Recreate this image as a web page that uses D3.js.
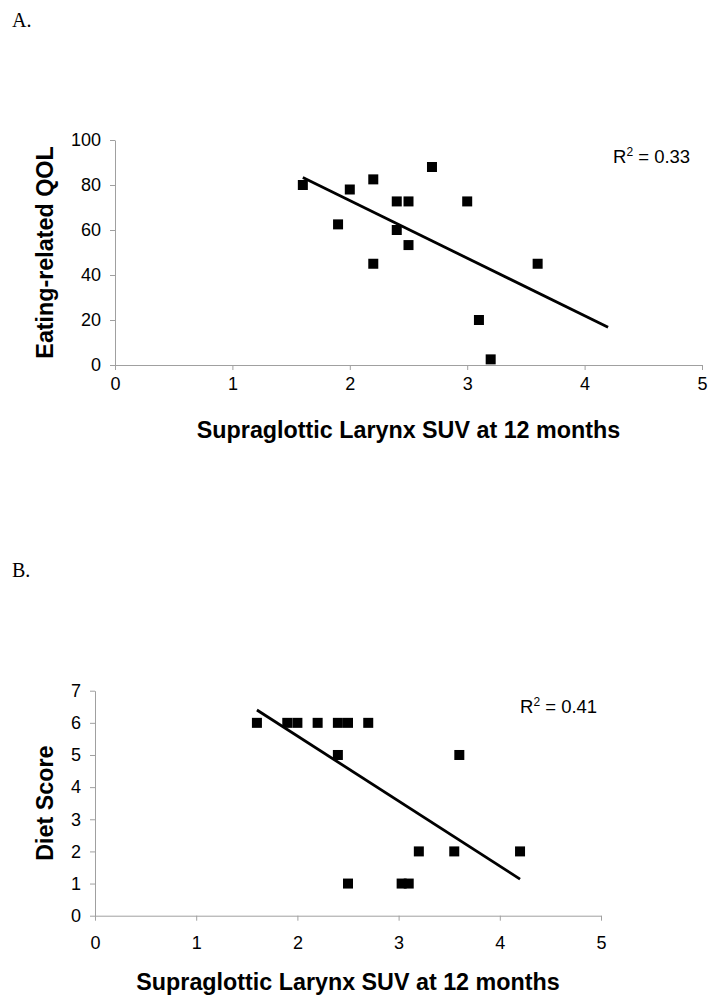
<!DOCTYPE html>
<html>
<head>
<meta charset="utf-8">
<script src="https://cdn.jsdelivr.net/npm/d3@7"></script>
<style>
  html, body { margin: 0; padding: 0; background: #fff; }
  svg { display: block; }
  text { font-family: "Liberation Sans", Arial, sans-serif; fill: #000; }
</style>
</head>
<body>
<svg id="chart" width="720" height="1008"></svg>
<script>
// ---- data ----
const xTickValues = [0, 1, 2, 3, 4, 5];
const yTickValuesA = [0, 20, 40, 60, 80, 100];
const yTickValuesB = [0, 1, 2, 3, 4, 5, 6, 7];

const suvA = [1.6, 2.0, 2.2, 1.9, 2.4, 2.5, 2.7, 3.0, 2.4, 2.5, 2.2, 3.6, 3.1, 3.2];
const qolA = [80, 78, 82.5, 62.5, 72.7, 72.7, 88, 72.7, 60, 53.3, 45, 45, 20, 2.5];

const suvB = [1.6, 1.9, 2.0, 2.2, 2.4, 2.5, 2.7, 2.4, 3.6, 3.2, 3.55, 4.2, 2.5, 3.03, 3.1];
const dietB = [6, 6, 6, 6, 6, 6, 6, 5, 5, 2, 2, 2, 1, 1, 1];

const trendX = [1.6, 4.2];
const trendA = [83.3, 16.8];
const trendB = [6.4, 1.14];

const panelLabels = ["A.", "B."];
const xTitle = "Supraglottic Larynx SUV at 12 months";
const yTitles = ["Eating-related QOL", "Diet Score"];
const r2Values = ["0.33", "0.41"];

// ---- drawing ----
const svg = d3.select("#chart");
svg.append("rect").attr("width", 720).attr("height", 1008).attr("fill", "#fff");

const axisColor = "#a0a0a0";

function panel(cfg) {
  const x = d3.scaleLinear().domain([0, 5]).range([cfg.x0, cfg.x1]);
  const y = d3.scaleLinear().domain([0, cfg.ymax]).range([cfg.y0, cfg.y1]);
  const g = svg.append("g");

  // panel label
  g.append("text")
    .attr("x", 12).attr("y", cfg.labelY)
    .style("font-family", "'Liberation Serif', 'Times New Roman', serif")
    .style("font-size", "20px")
    .text(cfg.label);

  // x axis
  const gx = g.append("g")
    .attr("transform", `translate(0,${cfg.y0})`)
    .call(d3.axisBottom(x).tickValues(xTickValues).tickSize(5).tickSizeOuter(0).tickFormat(d3.format("d")));
  gx.select(".domain").attr("stroke", axisColor);
  gx.selectAll(".tick line").attr("stroke", axisColor);
  gx.selectAll(".tick text")
    .attr("dy", null).attr("y", cfg.xLabelOffset)
    .style("font-size", "18px").attr("fill", "#000");

  // y axis
  const gy = g.append("g")
    .attr("transform", `translate(${cfg.x0},0)`)
    .call(d3.axisLeft(y).tickValues(cfg.yTicks).tickSize(5).tickSizeOuter(0).tickFormat(d3.format("d")));
  gy.select(".domain").attr("stroke", axisColor);
  gy.selectAll(".tick line").attr("stroke", axisColor);
  gy.selectAll(".tick text")
    .attr("x", -14)
    .style("font-size", "18px").attr("fill", "#000");

  // axis titles
  g.append("text")
    .attr("x", (cfg.x0 + cfg.x1) / 2).attr("y", cfg.xTitleY)
    .attr("text-anchor", "middle")
    .style("font-size", "23.3px").style("font-weight", "bold")
    .text(xTitle);
  g.append("text")
    .attr("transform", `translate(53,${(cfg.y0 + cfg.y1) / 2}) rotate(-90)`)
    .attr("text-anchor", "middle")
    .style("font-size", "23.3px").style("font-weight", "bold")
    .text(cfg.yTitle);

  // trend line
  const line = d3.line().x(d => x(d[0])).y(d => y(d[1]));
  g.append("path")
    .datum(trendX.map((v, i) => [v, cfg.trend[i]]))
    .attr("d", line)
    .attr("fill", "none").attr("stroke", "#000").attr("stroke-width", 2.8);

  // points
  const s = 10;
  g.selectAll("rect.pt")
    .data(cfg.xs.map((v, i) => [v, cfg.ys[i]]))
    .join("rect")
    .attr("class", "pt")
    .attr("x", d => x(d[0]) - s / 2)
    .attr("y", d => y(d[1]) - s / 2)
    .attr("width", s).attr("height", s)
    .attr("fill", "#000");

  // R^2 annotation
  const t = g.append("text")
    .attr("x", cfg.r2x).attr("y", cfg.r2y)
    .style("font-size", "18.5px");
  t.append("tspan").text("R");
  t.append("tspan").attr("dy", -7).style("font-size", "12px").text("2");
  t.append("tspan").attr("dy", 7).text(" = " + cfg.r2);
}

panel({
  label: panelLabels[0], labelY: 27,
  x0: 115, x1: 702, y0: 365, y1: 140, ymax: 100,
  yTicks: yTickValuesA, xLabelOffset: 25, xTitleY: 438,
  yTitle: yTitles[0], xs: suvA, ys: qolA, trend: trendA,
  r2: r2Values[0], r2x: 613, r2y: 163
});

panel({
  label: panelLabels[1], labelY: 577,
  x0: 95, x1: 601, y0: 915.7, y1: 690.7, ymax: 7,
  yTicks: yTickValuesB, xLabelOffset: 33, xTitleY: 990,
  yTitle: yTitles[1], xs: suvB, ys: dietB, trend: trendB,
  r2: r2Values[1], r2x: 520, r2y: 713
});
</script>
</body>
</html>
